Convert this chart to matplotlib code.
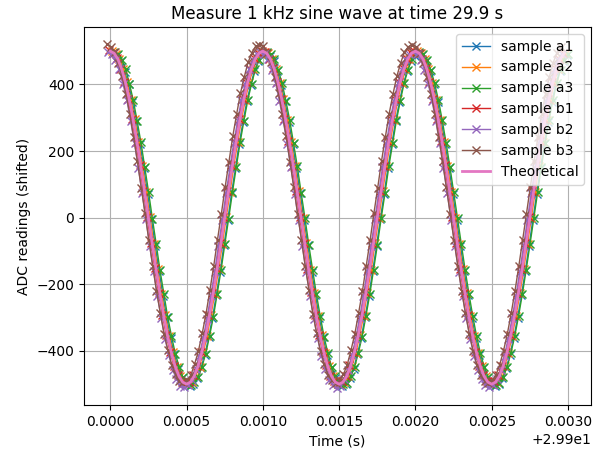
# ADC samples of a 1 kHz sine, several channels, against the theoretical curve

import matplotlib as mpl
mpl.use('Agg')
import matplotlib.pyplot as plt
import numpy as np

t_start = 29.9          # s
fs = 40000              # sampling rate, Hz
n_samples = 120

# theoretical signal at the sample instants
theoretical = [500, 494, 476, 446, 405, 354, 294, 227, 155, 78, 0, -78, -155, -227, -294, -354, -405, -446, -476, -494,
               -500, -494, -476, -446, -405, -354, -294, -227, -155, -78, 0, 78, 155, 227, 294, 354, 405, 446, 476, 494,
               500, 494, 476, 446, 405, 354, 294, 227, 155, 78, 0, -78, -155, -227, -294, -354, -405, -446, -476, -494,
               -500, -494, -476, -446, -405, -354, -294, -227, -155, -78, 0, 78, 155, 227, 294, 354, 405, 446, 476, 494,
               500, 494, 476, 446, 405, 354, 294, 227, 155, 78, 0, -78, -155, -227, -294, -354, -405, -446, -476, -494,
               -500, -494, -476, -446, -405, -354, -294, -227, -155, -78, 0, 78, 155, 227, 294, 354, 405, 446, 476, 494]

sample_a1 = [494, 489, 471, 438, 400, 347, 290, 220, 150, 71, -5, -85, -160, -234, -299, -361, -410, -453, -481, -499,
             -507, -501, -483, -451, -412, -359, -301, -232, -162, -83, -7, 73, 148, 222, 287, 349, 398, 441, 469, 489,
             495, 487, 470, 441, 398, 349, 287, 222, 148, 73, -6, -83, -162, -232, -301, -359, -412, -451, -483, -500,
             -505, -499, -481, -453, -410, -361, -299, -234, -160, -85, -5, 71, 150, 220, 289, 347, 400, 439, 471, 487,
             493, 488, 469, 440, 401, 348, 289, 221, 149, 72, -7, -84, -161, -233, -300, -360, -411, -452, -482, -501,
             -506, -500, -482, -452, -411, -360, -300, -233, -161, -84, -6, 72, 149, 221, 288, 348, 399, 440, 470, 488]
sample_a2 = [501, 493, 477, 445, 406, 353, 295, 226, 156, 77, 1, -79, -154, -228, -293, -355, -404, -447, -475, -495,
             -499, -495, -475, -447, -404, -355, -293, -228, -154, -79, 1, 77, 156, 226, 295, 353, 406, 445, 477, 493,
             499, 495, 475, 447, 404, 355, 293, 228, 154, 79, -1, -77, -156, -226, -295, -353, -406, -445, -477, -493,
             -501, -493, -477, -445, -406, -353, -295, -226, -156, -77, -1, 79, 154, 228, 293, 355, 404, 447, 475, 495,
             500, 494, 476, 446, 405, 354, 294, 227, 155, 78, 0, -78, -155, -227, -294, -354, -405, -446, -476, -494,
             -500, -494, -476, -446, -405, -354, -294, -227, -155, -78, 0, 78, 155, 227, 294, 354, 405, 446, 476, 494]
sample_a3 = [497, 492, 474, 445, 402, 352, 291, 226, 152, 77, -3, -79, -158, -228, -297, -355, -408, -447, -479, -495,
             -503, -495, -479, -447, -408, -355, -297, -228, -158, -79, -3, 77, 152, 226, 291, 352, 402, 445, 474, 492,
             499, 491, 475, 443, 404, 351, 293, 224, 154, 75, -1, -81, -156, -230, -295, -357, -406, -449, -477, -497,
             -501, -497, -477, -449, -406, -357, -295, -230, -156, -81, -1, 75, 154, 224, 293, 351, 404, 443, 475, 491,
             498, 493, 473, 444, 403, 353, 292, 225, 153, 76, -2, -80, -157, -229, -296, -356, -407, -448, -478, -496,
             -502, -496, -478, -448, -407, -356, -296, -229, -157, -80, -2, 76, 153, 225, 292, 353, 403, 444, 473, 493]
sample_b1 = [503, 495, 479, 447, 408, 355, 297, 228, 158, 79, 3, -77, -152, -226, -291, -353, -402, -445, -473, -493,
             -497, -493, -473, -445, -402, -353, -291, -226, -152, -77, 3, 79, 158, 228, 297, 355, 408, 447, 479, 495,
             501, 497, 477, 449, 406, 357, 295, 230, 156, 81, 1, -75, -154, -224, -293, -351, -404, -443, -475, -491,
             -499, -491, -475, -443, -404, -351, -293, -224, -154, -75, 1, 81, 156, 230, 295, 357, 406, 449, 477, 497,
             502, 496, 478, 448, 407, 356, 296, 229, 157, 80, 2, -76, -153, -225, -292, -352, -403, -444, -474, -492,
             -498, -492, -474, -444, -403, -352, -292, -225, -153, -76, 2, 80, 157, 229, 296, 356, 407, 448, 478, 496]
sample_b2 = [498, 493, 473, 445, 401, 352, 289, 224, 149, 74, -5, -86, -161, -236, -301, -364, -413, -457, -485, -505,
             -509, -503, -487, -455, -415, -362, -303, -234, -163, -84, -7, 74, 149, 224, 289, 352, 401, 445, 473, 493,
             497, 491, 475, 443, 403, 350, 291, 222, 151, 72, -7, -84, -163, -234, -303, -362, -415, -455, -487, -503,
             -511, -505, -485, -457, -413, -364, -301, -236, -161, -86, -5, 72, 151, 222, 291, 350, 403, 443, 475, 491,
             498, 492, 474, 444, 402, 351, 290, 223, 150, 73, -6, -85, -162, -235, -302, -363, -414, -456, -486, -504,
             -510, -504, -486, -456, -414, -363, -302, -235, -162, -85, -6, 73, 150, 223, 290, 351, 402, 444, 474, 492]
sample_b3 = [521, 513, 497, 464, 424, 371, 312, 242, 170, 90, 13, -68, -144, -220, -286, -349, -398, -442, -471, -491,
             -495, -489, -473, -440, -400, -347, -288, -218, -146, -66, 11, 92, 168, 244, 310, 373, 422, 466, 495, 515,
             519, 515, 495, 466, 422, 373, 310, 244, 168, 92, 11, -66, -146, -218, -288, -347, -400, -440, -473, -489,
             -497, -491, -471, -442, -398, -349, -286, -220, -144, -68, 13, 90, 170, 242, 312, 371, 424, 464, 497, 513,
             520, 514, 496, 465, 423, 372, 311, 243, 169, 91, 12, -67, -145, -219, -287, -348, -399, -441, -472, -490,
             -496, -490, -472, -441, -399, -348, -287, -219, -145, -67, 12, 91, 169, 243, 311, 372, 423, 465, 496, 514]

labels = ['sample a1', 'sample a2', 'sample a3', 'sample b1', 'sample b2', 'sample b3']
samples = [sample_a1, sample_a2, sample_a3, sample_b1, sample_b2, sample_b3]
time_shift_us = [20, 10, 26, -8, -16, -22]   # timestamp offset of each channel

t = t_start + np.arange(n_samples) / fs

fig = plt.figure(figsize=(6.12, 4.5), dpi=100)
ax = fig.add_axes([0.137, 0.10, 0.829, 0.84])

for lab, y, dt in zip(labels, samples, time_shift_us):
    ax.plot(t + dt * 1e-6, y, marker='x', linewidth=1, label=lab)
ax.plot(t, theoretical, linewidth=2, color='tab:pink', label='Theoretical')

ax.set_title('Measure 1 kHz sine wave at time 29.9 s')
ax.set_xlabel('Time (s)')
ax.set_ylabel('ADC readings (shifted)')
ax.grid(True)
ax.legend(loc='upper right')

plt.savefig('out.png', dpi=100)
plt.close()
